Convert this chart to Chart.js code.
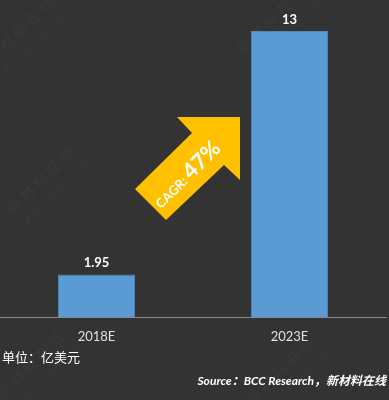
<!DOCTYPE html>
<html>
<head>
<meta charset="utf-8">
<script src="https://cdn.jsdelivr.net/npm/chart.js@4"></script>
<style>
  html, body { margin: 0; padding: 0; background: #333333; }
  #wrap { width: 389px; height: 400px; }
</style>
</head>
<body>
<div id="wrap"><canvas id="c" width="389" height="400"></canvas></div>
<script>
const years = ["2018E", "2023E"];
const market = [1.95, 13];
const cagrText = ["CAGR:", "47%"];
const unitText = "单位：亿美元";
const sourceText = "Source：BCC Research，新材料在线";

const FONT = "Lato, 'Open Sans', 'Noto Sans CJK SC', sans-serif";

// faint site watermark + footer texts
const backdrop = {
  id: "backdrop",
  beforeDraw(chart) {
    const ctx = chart.ctx;
    ctx.save();
    ctx.fillStyle = "#333333";
    ctx.fillRect(0, 0, chart.width, chart.height);
    const marks = [[30, 40], [280, 30], [50, 190], [40, 375], [290, 380]];
    ctx.fillStyle = "#383838";
    marks.forEach(([x, y]) => {
      ctx.save();
      ctx.translate(x, y);
      ctx.rotate(-Math.PI / 4);
      ctx.textAlign = "center";
      ctx.font = "bold 15px 'Noto Sans CJK SC'";
      ctx.fillText("新 材 料 在 线", 0, -8);
      ctx.font = "15px " + FONT;
      ctx.fillText("Xincailiao.com", 6, 10);
      ctx.restore();
    });
    ctx.restore();
  },
  afterDraw(chart) {
    const ctx = chart.ctx;
    ctx.save();
    ctx.fillStyle = "#ffffff";
    ctx.textBaseline = "middle";
    ctx.font = "13px 'Noto Sans CJK SC', sans-serif";
    ctx.textAlign = "left";
    ctx.fillText(unitText, 2, 357);
    ctx.font = "italic bold 12px " + FONT;
    ctx.textAlign = "right";
    ctx.fillText(sourceText, 386, 381);
    ctx.restore();
  }
};

// value labels above bars + growth arrow
const overlay = {
  id: "overlay",
  afterDatasetsDraw(chart) {
    const ctx = chart.ctx;
    const meta = chart.getDatasetMeta(0);
    ctx.save();
    ctx.fillStyle = "#ffffff";
    ctx.font = "bold 13px " + FONT;
    ctx.textAlign = "center";
    ctx.textBaseline = "bottom";
    meta.data.forEach((bar, i) => {
      ctx.fillText(String(market[i]), bar.x, bar.y - 5);
    });

    // arrow shape
    const pts = [[240, 117], [240, 180], [224, 165], [166, 220], [135, 189], [192, 133], [177, 117]];
    ctx.fillStyle = "#FFC000";
    ctx.beginPath();
    pts.forEach(([x, y], i) => (i ? ctx.lineTo(x, y) : ctx.moveTo(x, y)));
    ctx.closePath();
    ctx.fill();

    ctx.translate(187, 175);
    ctx.rotate(-Math.PI / 4);
    ctx.fillStyle = "#ffffff";
    ctx.textBaseline = "alphabetic";
    ctx.textAlign = "left";
    ctx.font = "bold 13px " + FONT;
    const w1 = ctx.measureText(cagrText[0] + " ").width;
    ctx.font = "bold 22px " + FONT;
    const w2 = ctx.measureText(cagrText[1]).width;
    const start = -(w1 + w2) / 2;
    ctx.font = "bold 13px " + FONT;
    ctx.fillText(cagrText[0], start, 6);
    ctx.font = "bold 22px " + FONT;
    ctx.fillText(cagrText[1], start + w1, 7);
    ctx.restore();
  }
};

new Chart(document.getElementById("c"), {
  type: "bar",
  data: {
    labels: years,
    datasets: [{
      data: market,
      backgroundColor: "#5B9BD5",
      borderColor: "#4f88bd",
      borderWidth: 1,
      barPercentage: 0.8,
      categoryPercentage: 0.5
    }]
  },
  options: {
    responsive: false,
    animation: false,
    devicePixelRatio: 1,
    layout: { padding: { top: 31, left: 0, right: 3, bottom: 51 } },
    plugins: {
      legend: { display: false },
      tooltip: { enabled: false }
    },
    scales: {
      x: {
        grid: { display: false },
        border: { display: true, color: "#8a8a8a", width: 1 },
        ticks: { color: "#e0e0e0", font: { family: FONT, size: 13 }, padding: 4 }
      },
      y: {
        display: false,
        min: 0,
        max: 13
      }
    }
  },
  plugins: [backdrop, overlay]
});
</script>
</body>
</html>
